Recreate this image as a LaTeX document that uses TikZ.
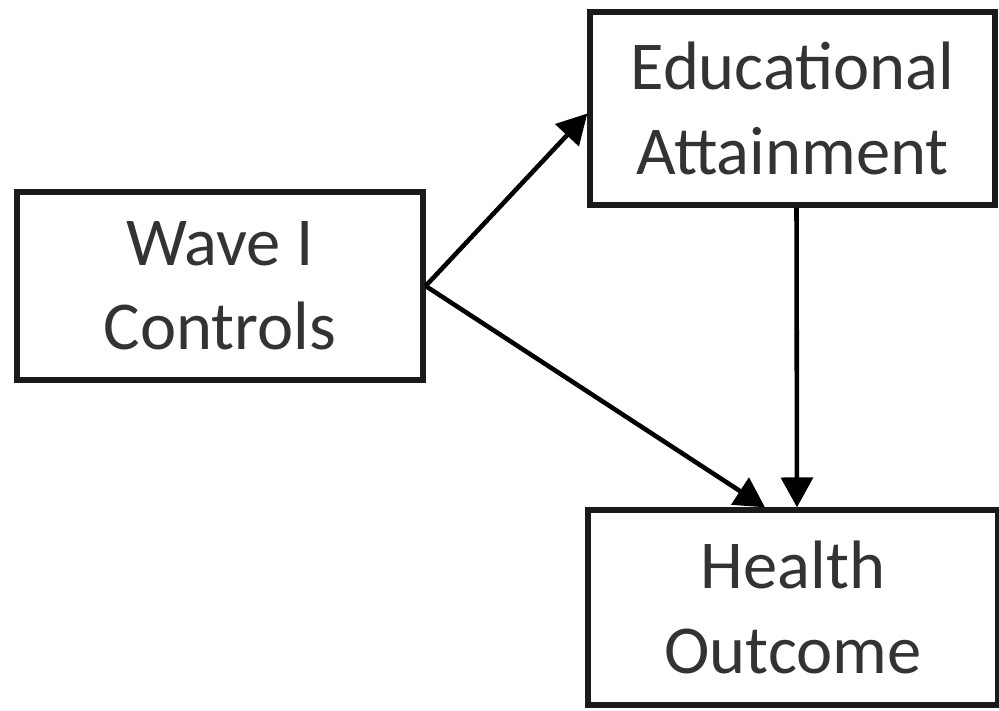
\documentclass[tikz,border=0pt]{standalone}
\usepackage{fontspec}
\setmainfont{Carlito}
\usepackage{xcolor}
\usepackage{tikz}
\usetikzlibrary{arrows.meta,calc}
\definecolor{boxgray}{HTML}{1A1A1A}

\begin{document}
\begin{tikzpicture}[
    every node/.style={rectangle, draw=boxgray, line width=1.5pt, align=center, inner sep=0pt, font=\fontsize{19.5}{24}\selectfont\color{black!80}},
    path/.style={draw=black, line width=1.3pt, -{Triangle[length=8.5pt,width=9pt]}}
]
\useasboundingbox (0,0) rectangle (9.99,7.11);
\node (wave) at (2.20, 4.25) [minimum width=4.06cm, minimum height=1.88cm] {Wave I\\Controls};
\node (edu) at (7.925, 6.025) [minimum width=4.05cm, minimum height=1.93cm] {Educational\\Attainment};
\node (health) at (7.93, 1.035) [minimum width=4.1cm, minimum height=1.95cm] {Health\\Outcome};
\draw[path] (wave.east) -- ([yshift=-0.05cm]edu.west);
\draw[path] (wave.east) -- ([xshift=-0.28cm]health.north);
\draw[path] ([xshift=0.04cm]edu.south) -- ([xshift=0.04cm]health.north);
\end{tikzpicture}
\end{document}
